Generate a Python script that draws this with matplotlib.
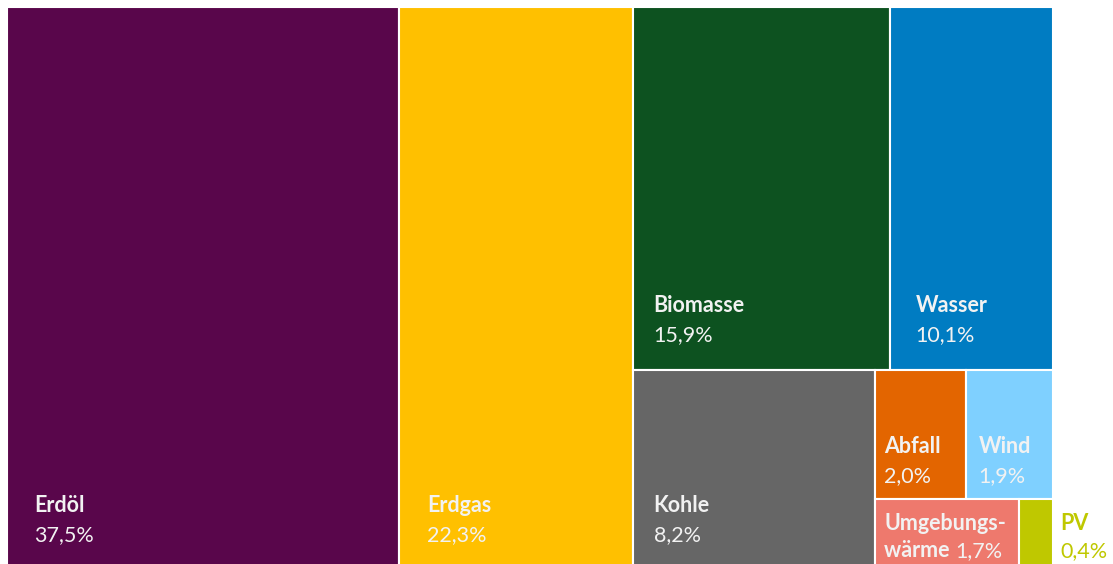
import matplotlib.pyplot as plt
from matplotlib.patches import Rectangle

plt.rcParams['font.family'] = ['Lato', 'DejaVu Sans']

names = ["Erdöl", "Erdgas", "Biomasse", "Wasser", "Kohle", "Abfall", "Wind", "Umgebungswärme", "PV"]
shares = [37.5, 22.3, 15.9, 10.1, 8.2, 2.0, 1.9, 1.7, 0.4]
pct_labels = ["37,5%", "22,3%", "15,9%", "10,1%", "8,2%", "2,0%", "1,9%", "1,7%", "0,4%"]
colors = ["#59064B", "#FFC000", "#0D5220", "#007CC2", "#666666",
          "#E36500", "#7FD0FF", "#EE796D", "#BFC800"]

s = dict(zip(names, shares))

# hand-made slice layout in the same order as the original treemap
boxes = {}
total = sum(shares)
x = 0.0
for n in ["Erdöl", "Erdgas"]:
    w = s[n] / total
    boxes[n] = (x, 0.0, w, 1.0)
    x += w
rest_w = 1.0 - x
top = s["Biomasse"] + s["Wasser"]
h_top = top / (total * rest_w)
xx = x
for n in ["Biomasse", "Wasser"]:
    w = s[n] / top * rest_w
    boxes[n] = (xx, 0.0, w, h_top)
    xx += w
bot = total * rest_w - top
h_bot = 1.0 - h_top
w_k = s["Kohle"] / bot * rest_w
boxes["Kohle"] = (x, h_top, w_k, h_bot)
xs = x + w_k
ws = rest_w - w_k
small = bot - s["Kohle"]
r1 = s["Abfall"] + s["Wind"]
h1 = r1 / small * h_bot
xx = xs
for n in ["Abfall", "Wind"]:
    w = s[n] / r1 * ws
    boxes[n] = (xx, h_top, w, h1)
    xx += w
r2 = s["Umgebungswärme"] + s["PV"]
xx = xs
for n in ["Umgebungswärme", "PV"]:
    w = s[n] / r2 * ws
    boxes[n] = (xx, h_top + h1, w, h_bot - h1)
    xx += w

fig = plt.figure(figsize=(11.13, 5.64), dpi=100)
ax = fig.add_axes([7 / 1113, -4 / 564, 1046 / 1113, 561 / 564])
ax.set_xlim(0, 1)
ax.set_ylim(1, 0)
ax.axis('off')

for n, c in zip(names, colors):
    bx, by, bw, bh = boxes[n]
    ax.add_patch(Rectangle((bx, by), bw, bh, facecolor=c, edgecolor='white', linewidth=1.5))

PT = 0.72  # pixels -> points
# label offsets in pixels from the lower left corner of each box
offs = {"Erdöl": (27, 56), "Erdgas": (28, 56), "Biomasse": (21, 58), "Wasser": (26, 58),
        "Kohle": (21, 56), "Abfall": (9, 46), "Wind": (12, 46)}
txt = '#F2F2F2'
fs = 15.5


def label(s_, box, dx, dy, bold=False, color=txt):
    bx, by, bw, bh = box
    return ax.annotate(s_, (bx, by + bh), xytext=(dx * PT, dy * PT), textcoords='offset points',
                       color=color, fontsize=fs, fontweight='bold' if bold else 'normal',
                       va='baseline', annotation_clip=False)


for n, p in zip(names, pct_labels):
    if n in offs:
        dx, dy = offs[n]
        label(n, boxes[n], dx, dy, bold=True)
        label(p, boxes[n], dx, dy - 29)

label("Umgebungs-", boxes["Umgebungswärme"], 9, 38, bold=True)
t = label("wärme ", boxes["Umgebungswärme"], 9, 11, bold=True)
fig.canvas.draw()
wpx = t.get_window_extent().width
label(pct_labels[7], boxes["Umgebungswärme"], 9 + wpx, 11)

label("PV", boxes["PV"], 41, 38, bold=True, color=colors[8])
label(pct_labels[8], boxes["PV"], 41, 11, color=colors[8])

fig.savefig("out.png", dpi=100)
